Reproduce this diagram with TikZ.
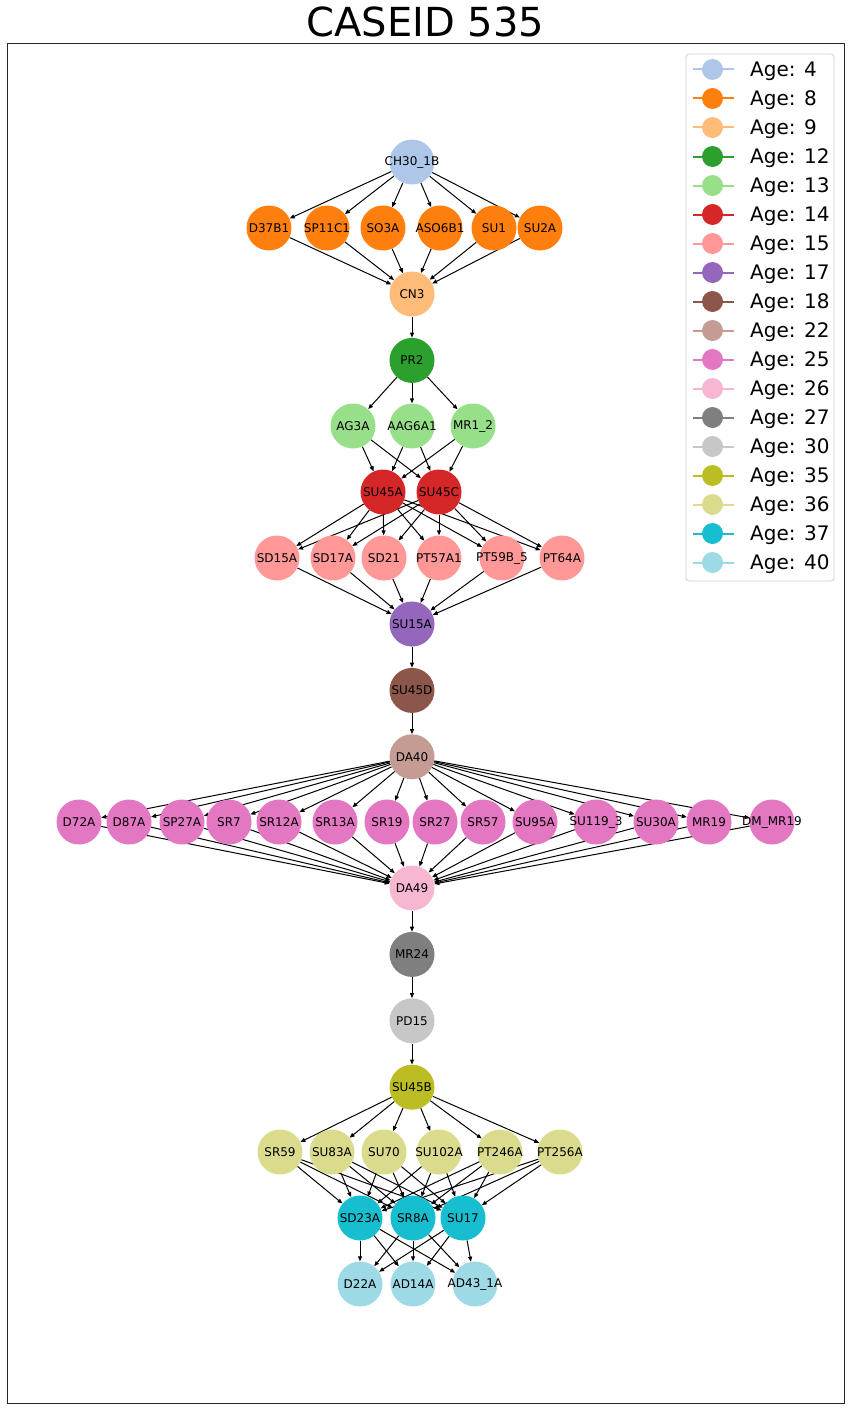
\documentclass[tikz,border=0pt]{standalone}
\usepackage{fontspec}
\setmainfont{DejaVu Sans}
\usetikzlibrary{arrows.meta,positioning,backgrounds}

\definecolor{c4}{HTML}{AEC7E8}
\definecolor{c8}{HTML}{FF7F0E}
\definecolor{c9}{HTML}{FFBB78}
\definecolor{c12}{HTML}{2CA02C}
\definecolor{c13}{HTML}{98DF8A}
\definecolor{c14}{HTML}{D62728}
\definecolor{c15}{HTML}{FF9896}
\definecolor{c17}{HTML}{9467BD}
\definecolor{c18}{HTML}{8C564B}
\definecolor{c22}{HTML}{C49C94}
\definecolor{c25}{HTML}{E377C2}
\definecolor{c26}{HTML}{F7B6D2}
\definecolor{c27}{HTML}{7F7F7F}
\definecolor{c30}{HTML}{C7C7C7}
\definecolor{c35}{HTML}{BCBD22}
\definecolor{c36}{HTML}{DBDB8D}
\definecolor{c37}{HTML}{17BECF}
\definecolor{c40}{HTML}{9EDAE5}

\tikzset{
  age/.style={circle, fill=#1, minimum size=45pt, inner sep=0pt,
    font=\fontsize{12}{14}\selectfont},
  legtext/.style={anchor=base west, inner sep=0pt, font=\fontsize{20}{24}\selectfont}
}
\newcommand{\lbl}[1]{\makebox[0pt]{#1}}

\begin{document}
\begin{tikzpicture}[x=1pt,y=-1pt,>={Triangle[length=5pt,width=4pt]},node distance=21pt]
  \useasboundingbox (0,0) rectangle (851,1410);
  \node[anchor=base, inner sep=0pt, font=\fontsize{40}{48}\selectfont] (title) at (425.5,37) {CASEID 535};
  \draw[line width=1pt, black!85] (7,44) rectangle (844,1403);

  % age 4 and 8
  \node[age=c4] (ch30) at (412,162) {\lbl{CH30\_1B}};
  \foreach \nm/\lb/\x in {d37b1/D37B1/269, sp11c1/SP11C1/327, so3a/SO3A/383,
      aso6b1/ASO6B1/440, su1/SU1/494, su2a/SU2A/540}
    \node[age=c8] (\nm) at (\x,228) {\lbl{\lb}};

  % age 9 to 14
  \node[age=c9] (cn3) at (412,294) {\lbl{CN3}};
  \node[age=c12] (pr2) [below=of cn3] {\lbl{PR2}};
  \node[age=c13] (ag3a) at (353,426) {\lbl{AG3A}};
  \node[age=c13] (aag6a1) at (412,426) {\lbl{AAG6A1}};
  \node[age=c13] (mr12) at (473,426) {\lbl{MR1\_2}};
  \node[age=c14] (su45a) at (383,492) {\lbl{SU45A}};
  \node[age=c14] (su45c) at (439,492) {\lbl{SU45C}};

  % age 15 to 22
  \foreach \nm/\lb/\x in {sd15a/SD15A/277, sd17a/SD17A/333, sd21/SD21/384,
      pt57a1/PT57A1/439, pt59b5/PT59B\_5/502, pt64a/PT64A/562}
    \node[age=c15] (\nm) at (\x,558) {\lbl{\lb}};
  \node[age=c17] (su15a) at (412,624) {\lbl{SU15A}};
  \node[age=c18] (su45d) [below=of su15a] {\lbl{SU45D}};
  \node[age=c22] (da40) [below=of su45d] {\lbl{DA40}};

  % age 25
  \foreach \nm/\lb/\x in {d72a/D72A/79, d87a/D87A/129, sp27a/SP27A/182, sr7/SR7/229,
      sr12a/SR12A/279, sr13a/SR13A/335, sr19/SR19/387, sr27/SR27/435, sr57/SR57/483,
      su95a/SU95A/535, su1193/SU119\_3/596, su30a/SU30A/656, mr19/MR19/709,
      dmmr19/DM\_MR19/772}
    \node[age=c25] (\nm) at (\x,822) {\lbl{\lb}};

  % age 26 to 35
  \node[age=c26] (da49) at (412,888) {\lbl{DA49}};
  \node[age=c27] (mr24) [below=of da49] {\lbl{MR24}};
  \node[age=c30] (pd15) [below=of mr24] {\lbl{PD15}};
  \node[age=c35] (su45b) [below=of pd15] {\lbl{SU45B}};

  % age 36 to 40
  \foreach \nm/\lb/\x in {sr59/SR59/280, su83a/SU83A/332, su70/SU70/384,
      su102a/SU102A/439, pt246a/PT246A/500, pt256a/PT256A/560}
    \node[age=c36] (\nm) at (\x,1152) {\lbl{\lb}};
  \node[age=c37] (sd23a) at (360,1218) {\lbl{SD23A}};
  \node[age=c37] (sr8a) at (413,1218) {\lbl{SR8A}};
  \node[age=c37] (su17) at (463,1218) {\lbl{SU17}};
  \node[age=c40] (d22a) at (360,1284) {\lbl{D22A}};
  \node[age=c40] (ad14a) at (413,1284) {\lbl{AD14A}};
  \node[age=c40] (ad431a) at (475,1284) {\lbl{AD43\_1A}};

  \begin{pgfonlayer}{background}
    \path[->, line width=1pt]
      (ch30) edge (d37b1) edge (sp11c1) edge (so3a) edge (aso6b1) edge (su1) edge (su2a)
      (cn3) edge (pr2)
      (pr2) edge (ag3a) edge (aag6a1) edge (mr12)
      (su15a) edge (su45d)
      (su45d) edge (da40)
      (da49) edge (mr24)
      (mr24) edge (pd15)
      (pd15) edge (su45b)
      (su45b) edge (sr59) edge (su83a) edge (su70) edge (su102a) edge (pt246a) edge (pt256a);
    \foreach \s in {d37b1,sp11c1,so3a,aso6b1,su1,su2a}
      \path[->, line width=1pt] (\s) edge (cn3);
    \foreach \s in {ag3a,aag6a1,mr12}
      \path[->, line width=1pt] (\s) edge (su45a) edge (su45c);
    \foreach \s in {su45a,su45c}
      \path[->, line width=1pt] (\s) edge (sd15a) edge (sd17a) edge (sd21)
        edge (pt57a1) edge (pt59b5) edge (pt64a);
    \foreach \s in {sd15a,sd17a,sd21,pt57a1,pt59b5,pt64a}
      \path[->, line width=1pt] (\s) edge (su15a);
    \foreach \t in {d72a,d87a,sp27a,sr7,sr12a,sr13a,sr19,sr27,sr57,su95a,su1193,su30a,mr19,dmmr19}
      \path[->, line width=1pt] (da40) edge (\t) (\t) edge (da49);
    \foreach \s in {sr59,su83a,su70,su102a,pt246a,pt256a}
      \path[->, line width=1pt] (\s) edge (sd23a) edge (sr8a) edge (su17);
    \foreach \s in {sd23a,sr8a,su17}
      \path[->, line width=1pt] (\s) edge (d22a) edge (ad14a) edge (ad431a);
  \end{pgfonlayer}

  % legend
  \draw[rounded corners=3pt, draw=black!20, fill=white, line width=0.8pt] (686,54) rectangle (834,581);
  \foreach \a [count=\i from 0] in {4,8,9,12,13,14,15,17,18,22,25,26,27,30,35,36,37,40} {
    \draw[c\a, line width=2pt] (693,69.5+29*\i) -- (734,69.5+29*\i);
    \fill[c\a] (712.5,69.5+29*\i) circle (10.5pt);
    \node[legtext] (leg\a) at (750,76.5+29*\i) {Age: \a};
  }
\end{tikzpicture}
\end{document}
